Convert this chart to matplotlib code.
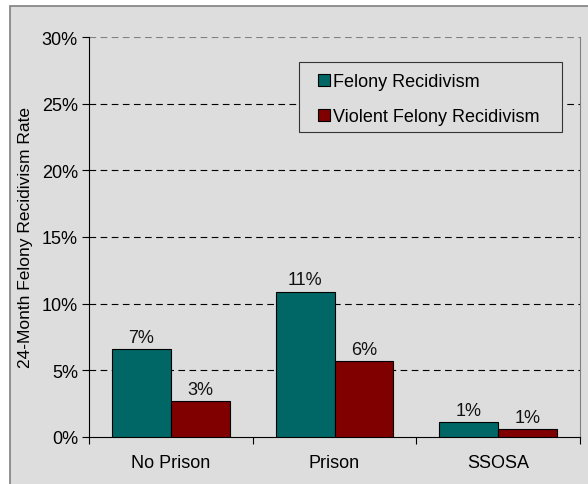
import numpy as np
import matplotlib.pyplot as plt
from matplotlib.patches import Rectangle

categories = ["No Prison", "Prison", "SSOSA"]
felony = [6.6, 10.9, 1.1]
violent = [2.7, 5.7, 0.6]
series_names = ["Felony Recidivism", "Violent Felony Recidivism"]
yticks = [0, 5, 10, 15, 20, 25, 30]

plt.rcParams['font.family'] = ['Liberation Sans', 'DejaVu Sans']
plt.rcParams['font.size'] = 13

W, H = 588, 485
fig = plt.figure(figsize=(W / 100, H / 100), dpi=100, facecolor='white')
bg = '#dddddd'

# outer chart frame (runs off the bottom/right edge)
fig.patches.append(Rectangle((10 / W, -0.05), 1.2, 1 - 7 / H + 0.05,
                             transform=fig.transFigure, facecolor=bg,
                             edgecolor='#808080', lw=1.2, zorder=-10))

ax = fig.add_axes([89 / W, 1 - 438 / H, (580 - 89) / W, (438 - 38) / H])
ax.set_zorder(1)
ax.set_facecolor(bg)

x = np.arange(len(categories)) + 0.5
bw = 0.36
b1 = ax.bar(x - bw / 2, felony, bw, color='#006666', edgecolor='black', lw=0.8,
            label=series_names[0], zorder=3)
b2 = ax.bar(x + bw / 2, violent, bw, color='#800000', edgecolor='black', lw=0.8,
            label=series_names[1], zorder=3)

for bars, vals in ((b1, felony), (b2, violent)):
    for b, v in zip(bars, vals):
        ax.text(b.get_x() + b.get_width() / 2, v + 0.25, f"{v:.0f}%",
                ha='center', va='bottom', fontsize=13, color='#111111')

ax.set_xlim(0, 3)
ax.set_ylim(0, 30)
ax.set_yticks(yticks)
ax.set_yticklabels([f"{t}%" for t in yticks], fontsize=13)
ax.set_xticks([0, 1, 2, 3])
ax.set_xticklabels([])
ax.set_xticks(x, minor=True)
ax.set_xticklabels(categories, minor=True, fontsize=13)
ax.tick_params(axis='x', which='minor', length=0, pad=12)
ax.tick_params(axis='x', which='major', direction='out', length=5, width=0.8)
ax.tick_params(axis='y', direction='out', length=5, width=0.8, pad=3)

for t in yticks[1:]:
    ax.axhline(t, color='black' if t < 30 else '#808080', lw=0.8,
               ls=(0, (6, 4)), zorder=1)

ax.spines['top'].set_visible(False)
ax.spines['right'].set_color('#808080')
ax.spines['left'].set_linewidth(0.8)
ax.spines['bottom'].set_linewidth(0.8)

ax.set_ylabel("24-Month Felony Recidivism Rate", fontsize=12.5, labelpad=6)

# legend box drawn separately so the padding can be wider than it is tall
box = Rectangle((299 / W, 1 - 133 / H), (562 - 299) / W, 70 / H,
                transform=fig.transFigure, facecolor=bg, edgecolor='#333333',
                lw=0.8, zorder=5)
ax.add_artist(box)
box.set_clip_on(False)
leg = ax.legend(loc='upper left', bbox_to_anchor=(318 / W, 1 - 74 / H),
                bbox_transform=fig.transFigure, fontsize=13, frameon=False,
                handlelength=0.65, handleheight=0.65, handletextpad=0.2,
                borderpad=0, labelspacing=1.0, borderaxespad=0)
leg.set_zorder(6)

fig.savefig("out.png", dpi=100, facecolor='white')
